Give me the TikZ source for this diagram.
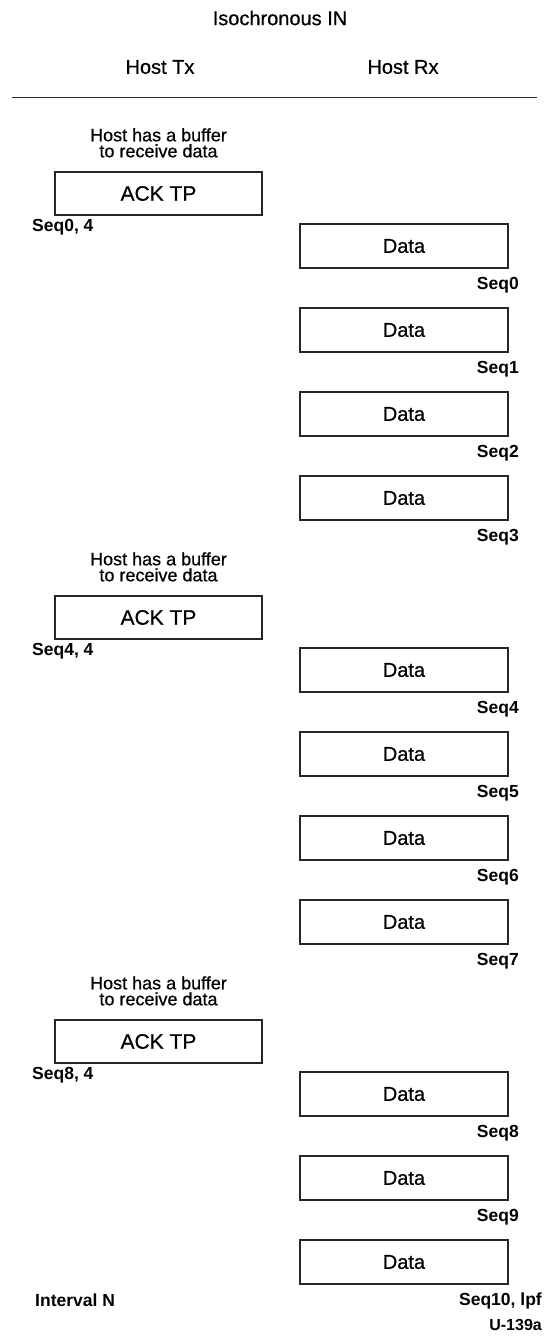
\documentclass[tikz,border=0pt]{standalone}
\usepackage{fontspec}
\setmainfont{Liberation Sans}[FakeBold=0.6,BoldFont=Liberation Sans Bold,BoldFeatures={FakeBold=0}]
\usetikzlibrary{positioning}

\begin{document}
\begin{tikzpicture}[
    x=1pt,y=1pt,
    node distance=40pt,
    head/.style={font=\fontsize{20}{22}\selectfont},
    note/.style={align=center,font=\fontsize{18}{16}\selectfont},
    ackbox/.style={draw=black!85,line width=1.3pt,outer sep=0pt,minimum width=207pt,minimum height=43pt,font=\fontsize{21}{24}\selectfont},
    databox/.style={ackbox,minimum width=208pt,minimum height=44pt,font=\fontsize{20}{22}\selectfont},
    seqlbl/.style={inner sep=0pt,font=\fontsize{17.5}{19}\selectfont\bfseries}
  ]
    \useasboundingbox (0,0) rectangle (545,-1344);
    % header
    \node[head] (title) at (280,-18) {Isochronous IN};
    \node[head] (tx) at (160,-67) {Host Tx};
    \node[head] (rx) at (403,-67) {Host Rx};
    \coordinate (rulel) at (12,-97.5);
    \coordinate (ruler) at (537,-97.5);
    \draw[line width=1.3pt,black!85] (rulel) -- (ruler);
    % interval part 1
    \node[ackbox] (ack0) at (158.5,-193.5) {ACK TP};
    \node[note,above=11pt of ack0] (buf0) {Host has a buffer\\to receive data};
    \node[seqlbl,anchor=west] (sa0) at ([shift={(-23pt,-12pt)}]ack0.south west) {Seq0, 4};
    \node[databox,below right=9pt and 38pt of ack0.south east,anchor=north west] (d0) {Data};
    \node[databox,below=of d0] (d1) {Data};
    \node[databox,below=of d1] (d2) {Data};
    \node[databox,below=of d2] (d3) {Data};
    \node[seqlbl,anchor=east] (s0) at ([shift={(11pt,-17pt)}]d0.south east) {Seq0};
    \node[seqlbl,anchor=east] (s1) at ([shift={(11pt,-17pt)}]d1.south east) {Seq1};
    \node[seqlbl,anchor=east] (s2) at ([shift={(11pt,-17pt)}]d2.south east) {Seq2};
    \node[seqlbl,anchor=east] (s3) at ([shift={(11pt,-17pt)}]d3.south east) {Seq3};
    % interval part 2
    \node[ackbox] (ack1) at (158.5,-617.5) {ACK TP};
    \node[note,above=11pt of ack1] (buf1) {Host has a buffer\\to receive data};
    \node[seqlbl,anchor=west] (sa1) at ([shift={(-23pt,-12pt)}]ack1.south west) {Seq4, 4};
    \node[databox,below right=9pt and 38pt of ack1.south east,anchor=north west] (d4) {Data};
    \node[databox,below=of d4] (d5) {Data};
    \node[databox,below=of d5] (d6) {Data};
    \node[databox,below=of d6] (d7) {Data};
    \node[seqlbl,anchor=east] (s4) at ([shift={(11pt,-17pt)}]d4.south east) {Seq4};
    \node[seqlbl,anchor=east] (s5) at ([shift={(11pt,-17pt)}]d5.south east) {Seq5};
    \node[seqlbl,anchor=east] (s6) at ([shift={(11pt,-17pt)}]d6.south east) {Seq6};
    \node[seqlbl,anchor=east] (s7) at ([shift={(11pt,-17pt)}]d7.south east) {Seq7};
    % interval part 3
    \node[ackbox] (ack2) at (158.5,-1041.5) {ACK TP};
    \node[note,above=11pt of ack2] (buf2) {Host has a buffer\\to receive data};
    \node[seqlbl,anchor=west] (sa2) at ([shift={(-23pt,-12pt)}]ack2.south west) {Seq8, 4};
    \node[databox,below right=9pt and 38pt of ack2.south east,anchor=north west] (d8) {Data};
    \node[databox,below=of d8] (d9) {Data};
    \node[databox,below=of d9] (d10) {Data};
    \node[seqlbl,anchor=east] (s8) at ([shift={(11pt,-17pt)}]d8.south east) {Seq8};
    \node[seqlbl,anchor=east] (s9) at ([shift={(11pt,-17pt)}]d9.south east) {Seq9};
    \node[seqlbl,anchor=east] (s10) at ([shift={(34pt,-17pt)}]d10.south east) {Seq10, lpf};
    % footer
    \node[seqlbl,anchor=west] (intv) at (35,-1300) {Interval N};
    \node[seqlbl,anchor=east,font=\fontsize{16}{18}\selectfont\bfseries] (fig) at (542,-1325) {U-139a};
  \end{tikzpicture}
\end{document}
